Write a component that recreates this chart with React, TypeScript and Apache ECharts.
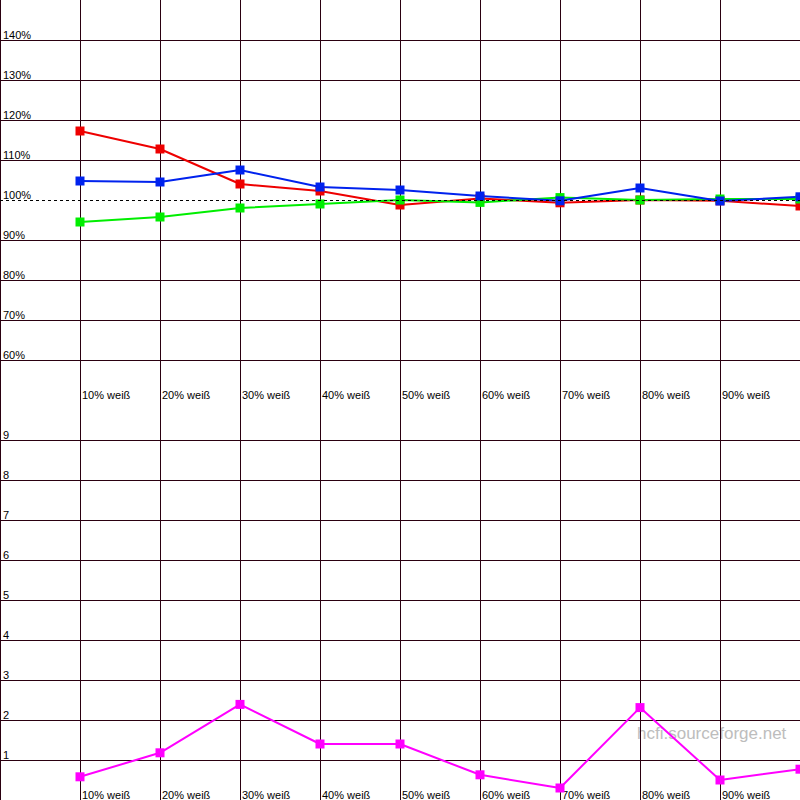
import React, { useEffect, useRef } from "react";
import * as echarts from "echarts";

const categories = [
  "10% weiß", "20% weiß", "30% weiß", "40% weiß", "50% weiß",
  "60% weiß", "70% weiß", "80% weiß", "90% weiß", "100% weiß",
];
const redValues = [117.25, 112.75, 104, 102.25, 98.75, 100.4, 99.3, 100, 99.8, 98.5];
const greenValues = [94.5, 95.75, 98, 99, 100, 99.4, 100.6, 100, 100.25, 100.25];
const blueValues = [104.75, 104.5, 107.5, 103.25, 102.5, 101, 99.8, 103, 99.75, 100.8];
const magentaValues = [0.58, 1.18, 2.39, 1.4, 1.4, 0.63, 0.3, 2.31, 0.5, 0.77];
const topTicks = [50, 60, 70, 80, 90, 100, 110, 120, 130, 140, 150];
const bottomTicks = [0, 1, 2, 3, 4, 5, 6, 7, 8, 9, 10];
const referenceLine = 100;
const watermark = "hcfi.sourceforge.net";

const GRID = "#2a0010";
const FONT = "'Liberation Sans', Arial, sans-serif";

const toPairs = (vals: number[]) => vals.map((v, i) => [i + 1, v]);

export default function App() {
  const ref = useRef<HTMLDivElement>(null);
  useEffect(() => {
    if (!ref.current) return;
    const chart = echarts.init(ref.current, undefined, { renderer: "svg" });
    const xAxisBase = (gridIndex: number) => ({
      type: "value" as const,
      gridIndex,
      min: 0,
      max: 10,
      interval: 1,
      axisLine: { show: false },
      axisTick: { show: false },
      splitLine: { show: true, lineStyle: { color: GRID, width: 1 } },
      axisLabel: {
        inside: true,
        margin: 0,
        align: "left" as const,
        padding: [0, 0, 0, 2],
        fontSize: 11,
        fontFamily: FONT,
        color: "#000",
        // the last category sits on the right edge and is cut off in the reference
        formatter: (v: number) => (v >= 1 && v < categories.length ? categories[v - 1] : ""),
      },
    });
    const topColors = topTicks.map((t) =>
      t === topTicks[0] || t === topTicks[topTicks.length - 1] || t === referenceLine ? "transparent" : GRID
    );
    const bottomColors = bottomTicks.map((t, i) =>
      i === 0 || i === bottomTicks.length - 1 ? "transparent" : GRID
    );
    const lineSeries = (name: string, data: number[], color: string, xi: number) => ({
      name,
      type: "line" as const,
      xAxisIndex: xi,
      yAxisIndex: xi,
      data: toPairs(data),
      symbol: "rect",
      symbolSize: 9,
      lineStyle: { color, width: 2 },
      itemStyle: { color },
    });
    chart.setOption({
      animation: false,
      backgroundColor: "#fff",
      grid: [
        { left: 0, top: 0, width: 800, height: 400, containLabel: false, outerBoundsMode: "none" },
        { left: 0, top: 400, width: 800, height: 400, containLabel: false, outerBoundsMode: "none" },
      ],
      xAxis: [xAxisBase(0), xAxisBase(1)],
      yAxis: [
        {
          type: "value",
          gridIndex: 0,
          min: topTicks[0],
          max: topTicks[topTicks.length - 1],
          interval: 10,
          axisLine: { show: false },
          axisTick: { show: false },
          splitLine: { show: true, lineStyle: { color: topColors, width: 1 } },
          axisLabel: {
            inside: true,
            margin: 3,
            verticalAlign: "bottom",
            fontSize: 11,
            fontFamily: FONT,
            color: "#000",
            formatter: (v: number) =>
              v === topTicks[0] || v === topTicks[topTicks.length - 1] ? "" : v + "%",
          },
        },
        {
          type: "value",
          gridIndex: 1,
          min: bottomTicks[0],
          max: bottomTicks[bottomTicks.length - 1],
          interval: 1,
          axisLine: { show: false },
          axisTick: { show: false },
          splitLine: { show: true, lineStyle: { color: bottomColors, width: 1 } },
          axisLabel: {
            inside: true,
            margin: 3,
            verticalAlign: "bottom",
            fontSize: 11,
            fontFamily: FONT,
            color: "#000",
            formatter: (v: number) =>
              v === bottomTicks[0] || v === bottomTicks[bottomTicks.length - 1] ? "" : String(v),
          },
        },
      ],
      graphic: [
        {
          type: "text",
          left: 637,
          top: 725,
          z: 0,
          style: {
            text: watermark,
            font: `17px ${FONT}`,
            fill: "#bdbdbd",
          },
        },
      ],
      series: [
        {
          ...lineSeries("rot", redValues, "#ee0000", 0),
          markLine: {
            silent: true,
            symbol: "none",
            label: { show: false },
            lineStyle: { color: "#000", width: 1, type: [3, 3] },
            data: [{ yAxis: referenceLine }],
          },
        },
        lineSeries("grün", greenValues, "#00ee00", 0),
        lineSeries("blau", blueValues, "#0022ee", 0),
        lineSeries("magenta", magentaValues, "#ff00ff", 1),
      ],
    });
    return () => chart.dispose();
  }, []);
  return (
    <div
      ref={ref}
      style={{ position: "fixed", left: 0, top: 0, width: 800, height: 800, background: "#fff" }}
    />
  );
}
